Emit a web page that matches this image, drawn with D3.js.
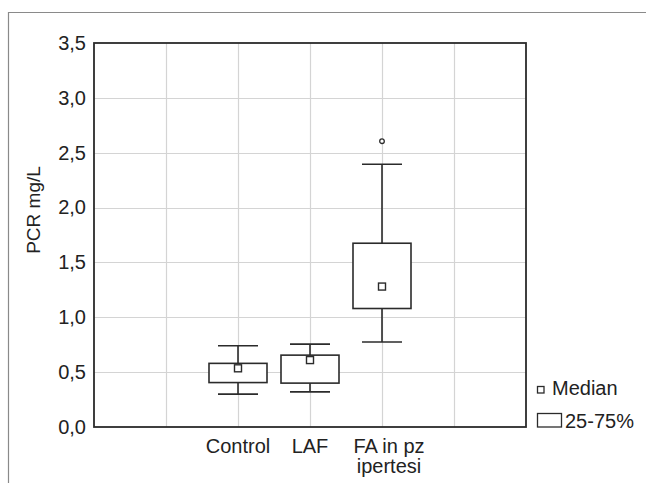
<!DOCTYPE html>
<html>
<head>
<meta charset="utf-8">
<script src="https://cdn.jsdelivr.net/npm/d3@7"></script>
<style>
	body { margin: 0; background: #fff; }
	svg { display: block; font-family: "Liberation Sans", Arial, sans-serif; }
	.tick text { fill: #222; }
</style>
</head>
<body>
<div id="chart"></div>
<script>
// category labels (multi-line where the original wraps)
var categories = ["Control", "LAF", "FA in pz ipertesi"]
var labelLines = [["Control"], ["LAF"], ["FA in pz", "ipertesi"]]
// slot of each category on the 0..6 x grid
var slots = [2, 3, 4]

var whiskerLow  = [0.30, 0.32, 0.775]
var q1          = [0.405, 0.40, 1.08]
var median      = [0.535, 0.61, 1.28]
var q3          = [0.58, 0.655, 1.675]
var whiskerHigh = [0.74, 0.755, 2.395]
var outliers    = [[], [], [2.605]]

var yTicks = [0, 0.5, 1, 1.5, 2, 2.5, 3, 3.5]
var legendLabels = ["Median", "25-75%"]

var fullWidth = 646, fullHeight = 483
var margin = {top: 43, right: 120, bottom: 56, left: 94}
var width = 526 - margin.left
var height = 427 - margin.top
var ink = "#2b2b2b"

var svg = d3.select("#chart").append("svg")
	.attr("width", fullWidth)
	.attr("height", fullHeight)

// outer frame (top and left only, like the source)
svg.append("path")
	.attr("d", "M8.5,483V12.5H646")
	.attr("fill", "none")
	.attr("stroke", "#8a8a8a")
	.attr("stroke-width", 1.2)

var g = svg.append("g")
	.attr("transform", "translate(" + margin.left + "," + margin.top + ")")

var x = d3.scaleLinear().domain([0, 6]).range([0, width])
var y = d3.scaleLinear().domain([0, 3.5]).range([height, 0])

// grid
g.append("g").selectAll("line.h")
	.data(yTicks.slice(1, -1))
	.join("line")
	.attr("x1", 0).attr("x2", width)
	.attr("y1", d => Math.round(y(d)) + 0.5).attr("y2", d => Math.round(y(d)) + 0.5)
	.attr("stroke", "#d4d4d4").attr("stroke-width", 1.2)

g.append("g").selectAll("line.v")
	.data(d3.range(1, 6))
	.join("line")
	.attr("y1", 0).attr("y2", height)
	.attr("x1", d => Math.round(x(d)) + 0.5).attr("x2", d => Math.round(x(d)) + 0.5)
	.attr("stroke", "#d4d4d4").attr("stroke-width", 1.2)

// y axis
var yAxis = d3.axisLeft(y)
	.tickValues(yTicks)
	.tickSize(0)
	.tickPadding(8)
	.tickFormat(d => d3.format(".1f")(d).replace(".", ","))

g.append("g")
	.call(yAxis)
	.call(a => a.select(".domain").remove())
	.selectAll("text")
	.attr("font-size", 20)
	.attr("font-family", "Liberation Sans, Arial, sans-serif")

// plot frame
g.append("rect")
	.attr("width", width).attr("height", height)
	.attr("fill", "none")
	.attr("stroke", ink).attr("stroke-width", 1.8)

// boxes
var capHalf = 20, boxHalf = 29, medHalf = 3.5
var boxes = g.append("g").selectAll("g")
	.data(categories.map((c, i) => ({
		name: c, slot: slots[i], lo: whiskerLow[i], q1: q1[i], med: median[i],
		q3: q3[i], hi: whiskerHigh[i], out: outliers[i]
	})))
	.join("g")
	.attr("transform", d => "translate(" + x(d.slot) + ",0)")

boxes.append("line")
	.attr("y1", d => y(d.hi)).attr("y2", d => y(d.q3))
	.attr("stroke", ink).attr("stroke-width", 1.6)
boxes.append("line")
	.attr("y1", d => y(d.q1)).attr("y2", d => y(d.lo))
	.attr("stroke", ink).attr("stroke-width", 1.6)
boxes.append("line")
	.attr("x1", -capHalf).attr("x2", capHalf)
	.attr("y1", d => y(d.hi)).attr("y2", d => y(d.hi))
	.attr("stroke", ink).attr("stroke-width", 1.6)
boxes.append("line")
	.attr("x1", -capHalf).attr("x2", capHalf)
	.attr("y1", d => y(d.lo)).attr("y2", d => y(d.lo))
	.attr("stroke", ink).attr("stroke-width", 1.6)
boxes.append("rect")
	.attr("x", -boxHalf).attr("width", boxHalf * 2)
	.attr("y", d => y(d.q3)).attr("height", d => y(d.q1) - y(d.q3))
	.attr("fill", "#fff").attr("stroke", ink).attr("stroke-width", 1.6)
boxes.append("rect")
	.attr("x", -medHalf).attr("width", medHalf * 2)
	.attr("y", d => y(d.med) - medHalf).attr("height", medHalf * 2)
	.attr("fill", "#fff").attr("stroke", ink).attr("stroke-width", 1.4)
boxes.selectAll("circle")
	.data(d => d.out)
	.join("circle")
	.attr("cy", d => y(d)).attr("r", 2.3)
	.attr("fill", "#fff").attr("stroke", ink).attr("stroke-width", 1.3)

// category labels
var labels = g.append("g").selectAll("text")
	.data(labelLines)
	.join("text")
	.attr("transform", (d, i) => "translate(" + (x(slots[i]) + (d.length > 1 ? 7 : 0)) + "," + (height + 26) + ")")
	.attr("text-anchor", "middle")
	.attr("font-size", 20)
	.attr("fill", "#222")
labels.selectAll("tspan")
	.data(d => d)
	.join("tspan")
	.attr("x", 0)
	.attr("dy", (d, i) => i === 0 ? 0 : 20)
	.text(d => d)

// y title
svg.append("text")
	.attr("transform", "translate(40,210) rotate(-90)")
	.attr("text-anchor", "middle")
	.attr("font-size", 19)
	.attr("fill", "#222")
	.text("PCR mg/L")

// legend
var legend = svg.append("g").attr("transform", "translate(537,0)")
legend.append("rect")
	.attr("x", 0.5).attr("y", 386.5).attr("width", 6.5).attr("height", 6.5)
	.attr("fill", "#fff").attr("stroke", ink).attr("stroke-width", 1.3)
legend.append("text")
	.attr("x", 15).attr("y", 395)
	.attr("font-size", 20).attr("fill", "#222")
	.text(legendLabels[0])
legend.append("rect")
	.attr("x", 0.5).attr("y", 413.5).attr("width", 24).attr("height", 13.5)
	.attr("fill", "#fff").attr("stroke", ink).attr("stroke-width", 1.3)
legend.append("text")
	.attr("x", 28).attr("y", 428)
	.attr("font-size", 20).attr("fill", "#222")
	.text(legendLabels[1])
</script>
</body>
</html>
